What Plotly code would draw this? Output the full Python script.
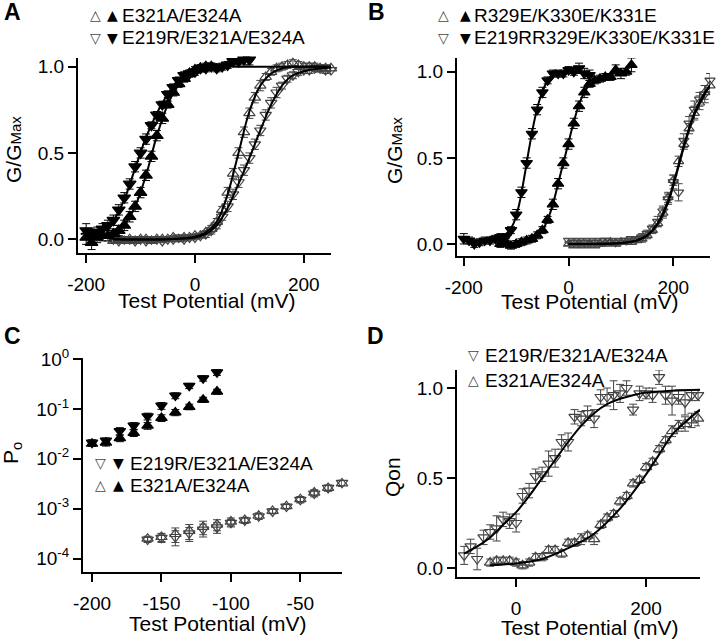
import plotly.graph_objects as go

FONT = "Liberation Sans, Arial, sans-serif"

# ---------------- Panel A data ----------------
A_V_FDN = [-200,-190,-180,-170,-160,-150,-140,-130,-120,-110,-100,-90,-80,-70,-60,-50,-40,-30,-20,-10,0,10,20,30,40,50,60,70,80,90,100]
A_G_FDN = [0.05,0.03,0.04,0.06,0.08,0.11,0.17,0.24,0.32,0.42,0.50,0.58,0.66,0.72,0.78,0.84,0.88,0.92,0.95,0.96,0.97,0.99,0.99,1.00,0.99,1.00,1.01,1.03,1.03,1.04,1.04]
A_E_FDN = [0.04,0.03,0.03,0.03,0.03,0.03,0.03,0.03,0.03,0.03,0.03,0.03,0.02,0.02,0.02,0.02,0.02,0.02,0.02,0.02,0.02,0.02,0.02,0.02,0.02,0.02,0.02,0.02,0.03,0.03,0.03]

A_V_FUP = [-200,-190,-180,-170,-160,-150,-140,-130,-120,-110,-100,-90,-80,-70,-60,-50,-40,-30,-20,-10,0,10,20,30]
A_G_FUP = [0.01,-0.02,0.01,0.02,0.02,0.03,0.05,0.08,0.13,0.19,0.27,0.37,0.48,0.60,0.70,0.78,0.85,0.90,0.93,0.96,0.98,0.99,1.00,1.00]
A_E_FUP = [0.04,0.04,0.03,0.03,0.03,0.03,0.03,0.03,0.03,0.03,0.03,0.03,0.03,0.03,0.03,0.02,0.02,0.02,0.02,0.02,0.02,0.02,0.02,0.02]

A_V_OPEN = [-150,-140,-130,-120,-110,-100,-90,-80,-70,-60,-50,-40,-30,-20,-10,0,10,20,30,40,50,60,70,80,90,100,110,120,130,140,150,160,170,180,190,200,210,220,230,240,250]
A_G_OUP = [-0.01,0.00,-0.01,0.00,-0.01,0.00,0.00,-0.01,0.00,0.00,0.00,0.01,0.00,0.01,0.01,0.02,0.02,0.04,0.06,0.10,0.17,0.27,0.38,0.50,0.62,0.73,0.82,0.89,0.94,0.97,0.99,1.00,1.01,1.02,1.01,1.00,1.00,1.00,0.99,0.99,0.99]
A_E_OUP = [0.01,0.01,0.01,0.01,0.01,0.01,0.01,0.01,0.01,0.01,0.01,0.01,0.01,0.01,0.01,0.01,0.01,0.01,0.02,0.02,0.02,0.03,0.03,0.03,0.03,0.03,0.03,0.03,0.02,0.02,0.02,0.02,0.02,0.02,0.02,0.02,0.02,0.02,0.02,0.02,0.02]
A_G_ODN = [0.00,-0.01,0.00,0.00,-0.01,0.00,-0.01,0.00,0.00,-0.01,0.00,0.00,0.01,0.00,0.01,0.01,0.02,0.03,0.05,0.08,0.13,0.19,0.26,0.33,0.40,0.47,0.55,0.63,0.72,0.79,0.85,0.89,0.93,0.95,0.97,0.98,0.98,0.99,0.99,0.98,0.98]
A_E_ODN = [0.01,0.01,0.01,0.01,0.01,0.01,0.01,0.01,0.01,0.01,0.01,0.01,0.01,0.01,0.01,0.01,0.01,0.02,0.02,0.02,0.02,0.03,0.03,0.03,0.03,0.03,0.03,0.03,0.03,0.03,0.03,0.02,0.02,0.02,0.02,0.02,0.02,0.02,0.02,0.02,0.02]

A_FIT_FDN_V = [-210,-190,-170,-150,-130,-110,-90,-70,-50,-30,-10,10,40,80,250]
A_FIT_FDN_G = [0.03,0.04,0.06,0.11,0.23,0.41,0.59,0.73,0.84,0.92,0.97,0.99,1.0,1.0,1.0]
A_FIT_FUP_V = [-200,-170,-150,-130,-110,-90,-70,-50,-30,-10,10,30,60]
A_FIT_FUP_G = [0.00,0.01,0.03,0.08,0.19,0.37,0.60,0.78,0.90,0.96,0.99,1.0,1.0]
A_FIT_OUP_V = [-150,-50,0,20,40,60,80,100,120,140,160,190,250]
A_FIT_OUP_G = [0.0,0.0,0.015,0.04,0.10,0.26,0.50,0.74,0.89,0.96,0.99,1.0,1.0]
A_FIT_ODN_V = [-150,-50,0,20,40,60,80,100,120,140,160,180,210,250]
A_FIT_ODN_G = [0.0,0.0,0.01,0.03,0.08,0.18,0.32,0.47,0.63,0.78,0.89,0.95,0.98,0.995]

# ---------------- Panel B data ----------------
B_V_FDN = [-200,-190,-180,-170,-160,-150,-140,-130,-120,-110,-100,-90,-80,-70,-60,-50,-40,-30,-20,-10,0,10,20,30,40]
B_G_FDN = [0.03,0.02,0.00,0.01,0.02,0.02,0.03,0.04,0.04,0.08,0.17,0.30,0.47,0.64,0.78,0.88,0.95,0.99,0.99,0.99,1.01,1.00,1.02,0.99,0.98]
B_E_FDN = [0.03,0.02,0.02,0.02,0.02,0.02,0.02,0.02,0.02,0.02,0.03,0.03,0.03,0.03,0.03,0.03,0.02,0.02,0.02,0.02,0.02,0.02,0.03,0.03,0.03]

B_V_FUP = [-130,-120,-110,-100,-90,-80,-70,-60,-50,-40,-30,-20,-10,0,10,20,30,40,50,60,70,80,90,100,110,120]
B_G_FUP = [0.00,0.01,-0.01,0.00,0.01,0.02,0.03,0.05,0.08,0.14,0.23,0.35,0.47,0.58,0.70,0.80,0.88,0.93,0.95,0.96,0.97,0.97,1.01,0.99,1.00,1.04]
B_E_FUP = [0.02,0.02,0.02,0.02,0.02,0.02,0.02,0.02,0.02,0.02,0.03,0.03,0.03,0.03,0.03,0.03,0.03,0.02,0.02,0.02,0.02,0.02,0.03,0.03,0.02,0.04]

B_V_OPEN = [0,10,20,30,40,50,60,70,80,90,100,110,120,130,140,150,160,170,180,190,200,210,220,230,240,250,260,270]
B_G_OUP = [0.00,-0.01,0.00,-0.01,0.00,-0.01,0.00,0.00,0.01,0.00,0.01,0.01,0.01,0.02,0.03,0.05,0.08,0.12,0.18,0.27,0.37,0.48,0.58,0.67,0.76,0.82,0.88,0.92]
B_E_OUP = [0.01,0.01,0.01,0.01,0.01,0.01,0.01,0.01,0.01,0.01,0.01,0.01,0.01,0.01,0.02,0.02,0.02,0.02,0.03,0.03,0.03,0.03,0.03,0.03,0.04,0.04,0.04,0.04]
B_G_ODN = [0.02,0.01,0.02,0.01,0.02,0.01,0.02,0.02,0.02,0.01,0.02,0.02,0.03,0.03,0.04,0.06,0.09,0.13,0.19,0.26,0.36,0.30,0.60,0.70,0.78,0.84,0.87,0.95]
B_E_ODN = [0.01,0.01,0.01,0.01,0.01,0.01,0.01,0.01,0.01,0.01,0.01,0.01,0.01,0.01,0.02,0.02,0.02,0.03,0.03,0.03,0.04,0.05,0.04,0.04,0.05,0.04,0.05,0.04]

B_FIT_FDN_V = [-200,-160,-130,-115,-105,-95,-85,-75,-65,-55,-45,-35,-25,-10,40]
B_FIT_FDN_G = [0.02,0.02,0.04,0.07,0.12,0.22,0.38,0.56,0.72,0.84,0.92,0.97,0.99,1.0,1.0]
B_FIT_FUP_V = [-130,-90,-70,-50,-40,-30,-20,-10,0,10,20,30,45,70,120]
B_FIT_FUP_G = [0.0,0.01,0.03,0.08,0.14,0.23,0.35,0.47,0.59,0.71,0.81,0.88,0.94,0.98,1.0]
B_FIT_OUP_V = [0,100,130,150,170,190,200,210,220,240,260,270]
B_FIT_OUP_G = [0.0,0.005,0.02,0.05,0.12,0.25,0.35,0.46,0.57,0.76,0.88,0.92]
B_FIT_ODN_G = [0.0,0.005,0.02,0.05,0.115,0.24,0.34,0.45,0.56,0.75,0.87,0.915]

# ---------------- Panel C data ----------------
C_V_FILLED = [-200,-190,-180,-170,-160,-150,-140,-130,-120,-110]
C_P_FDN = [0.021,0.023,0.036,0.046,0.071,0.116,0.185,0.29,0.41,0.54]
C_E_FDN = [0.003,0.003,0.006,0.007,0.011,0.018,0.025,0.035,0.05,0.07]
C_P_FUP = [0.020,0.021,0.026,0.033,0.046,0.066,0.085,0.11,0.153,0.222]
C_E_FUP = [0.002,0.003,0.004,0.005,0.007,0.01,0.012,0.014,0.018,0.025]

C_V_OPEN = [-160,-150,-140,-130,-120,-110,-100,-90,-80,-70,-60,-50,-40,-30,-20]
C_P_OUP = [2.5e-4,2.7e-4,3.1e-4,3.6e-4,4.3e-4,4.8e-4,5.5e-4,5.9e-4,7.2e-4,9.0e-4,1.12e-3,1.55e-3,2.1e-3,2.6e-3,3.2e-3]
C_E_OUP = [0.3e-4,0.5e-4,1.0e-4,1.2e-4,1.3e-4,1.2e-4,1.0e-4,0.8e-4,1.0e-4,1.0e-4,1.2e-4,2.0e-4,3.0e-4,3.5e-4,4.0e-4]
C_P_ODN = [2.4e-4,2.6e-4,2.7e-4,3.2e-4,3.8e-4,4.2e-4,5.2e-4,5.8e-4,7.0e-4,8.8e-4,1.1e-3,1.5e-3,2.0e-3,2.6e-3,3.3e-3]
C_E_ODN = [0.3e-4,0.5e-4,0.9e-4,1.0e-4,1.1e-4,1.0e-4,0.9e-4,0.7e-4,0.9e-4,0.9e-4,1.1e-4,2.0e-4,2.8e-4,3.5e-4,4.0e-4]

# ---------------- Panel D data ----------------
D_V_DN = [-80,-70,-60,-50,-40,-30,-20,-10,0,10,20,30,40,50,60,70,80,90,100,110,120,130,140,150,160,170,180,190,200,210,220,230,240,250,260,270,280,290]
D_Q_DN = [0.07,0.12,0.05,0.17,0.20,0.22,0.27,0.26,0.25,0.40,0.43,0.51,0.52,0.58,0.61,0.70,0.70,0.84,0.83,0.86,0.83,0.95,0.95,0.96,0.97,1.00,0.88,0.97,0.97,0.96,1.06,0.96,0.93,0.95,0.92,0.96,0.96,1.02]
D_E_DN = [0.05,0.04,0.06,0.04,0.04,0.07,0.04,0.04,0.05,0.04,0.04,0.04,0.04,0.07,0.05,0.04,0.05,0.04,0.04,0.04,0.05,0.04,0.05,0.08,0.05,0.04,0.03,0.04,0.03,0.04,0.04,0.05,0.08,0.04,0.07,0.03,0.03,0.04]
D_V_UP = [-40,-30,-20,-10,0,10,20,30,40,50,60,70,80,90,100,110,120,130,140,150,160,170,180,190,200,210,220,230,240,250,260,270,280]
D_Q_UP = [0.03,0.04,0.04,0.04,0.03,0.015,0.03,0.06,0.06,0.10,0.10,0.08,0.14,0.14,0.16,0.18,0.16,0.24,0.28,0.30,0.37,0.40,0.47,0.49,0.56,0.59,0.66,0.71,0.76,0.79,0.80,0.82,0.83]
D_E_UP = [0.02,0.02,0.02,0.02,0.02,0.02,0.02,0.02,0.02,0.02,0.02,0.02,0.02,0.02,0.03,0.02,0.03,0.02,0.02,0.02,0.02,0.02,0.02,0.02,0.02,0.02,0.02,0.02,0.03,0.03,0.04,0.04,0.04]

D_FIT_DN_V = [-80,-60,-40,-20,0,20,40,60,80,100,120,140,160,180,200,240,283]
D_FIT_DN_Q = [0.08,0.12,0.17,0.24,0.31,0.40,0.50,0.60,0.70,0.79,0.86,0.91,0.94,0.96,0.975,0.985,0.99]
D_FIT_UP_V = [-40,0,40,80,120,160,180,200,220,240,260,283]
D_FIT_UP_Q = [0.015,0.025,0.05,0.11,0.19,0.33,0.42,0.52,0.63,0.74,0.81,0.88]

# ---------------- labels / ticks ----------------
X_TITLE = "Test Potential (mV)"
LEG_A = ["E321A/E324A", "E219R/E321A/E324A"]
LEG_B = ["R329E/K330E/K331E", "E219RR329E/K330E/K331E"]
LEG_C = ["E219R/E321A/E324A", "E321A/E324A"]
LEG_D = ["E219R/E321A/E324A", "E321A/E324A"]
X_TICKS_AB = [-200, 0, 200]
X_TEXT_AB = ["-200", "0", "200"]
X_TICKS_C = [-200, -150, -100, -50]
X_TEXT_C = ["-200", "-150", "-100", "-50"]
X_TICKS_D = [0, 200]
X_TEXT_D = ["0", "200"]
LOG_TICKS = [1e-4, 1e-3, 1e-2, 1e-1, 1]
LOG_TEXT = ["10<sup>-4</sup>", "10<sup>-3</sup>", "10<sup>-2</sup>", "10<sup>-1</sup>", "10<sup>0</sup>"]
GTEXT = ["0.0", "0.5", "1.0"]
GVALS = [0, 0.5, 1.0]
GTITLE = "G/G<span style='font-size:15px'>Max</span>"

OPEN_C = "#444444"
W, H = 720, 640


def PX(x):
    return x / W


def PY(y):
    return 1 - y / H


fig = go.Figure()


def pts(xa, ya, x, y, e, symbol, color, size=10):
    fig.add_trace(go.Scatter(
        x=x, y=y, mode="markers", xaxis=xa, yaxis=ya, cliponaxis=False,
        marker=dict(symbol=symbol, size=size, color=color, line=dict(color=color, width=1.2)),
        error_y=dict(type="data", array=e, color=color, thickness=1, width=4),
        showlegend=False, hoverinfo="skip"))


def fit(xa, ya, x, y):
    fig.add_trace(go.Scatter(
        x=x, y=y, mode="lines", xaxis=xa, yaxis=ya,
        line=dict(color="black", width=2, shape="spline", smoothing=1.0),
        showlegend=False, hoverinfo="skip"))


# Panel A
pts("x", "y", A_V_OPEN, A_G_OUP, A_E_OUP, "triangle-up-open", OPEN_C, 10)
pts("x", "y", A_V_OPEN, A_G_ODN, A_E_ODN, "triangle-down-open", OPEN_C, 10)
pts("x", "y", A_V_FUP, A_G_FUP, A_E_FUP, "triangle-up", "black", 11)
pts("x", "y", A_V_FDN, A_G_FDN, A_E_FDN, "triangle-down", "black", 11)
fit("x", "y", A_FIT_FDN_V, A_FIT_FDN_G)
fit("x", "y", A_FIT_FUP_V, A_FIT_FUP_G)
fit("x", "y", A_FIT_OUP_V, A_FIT_OUP_G)
fit("x", "y", A_FIT_ODN_V, A_FIT_ODN_G)

# Panel B
pts("x2", "y2", B_V_OPEN, B_G_OUP, B_E_OUP, "triangle-up-open", OPEN_C, 9)
pts("x2", "y2", B_V_OPEN, B_G_ODN, B_E_ODN, "triangle-down-open", OPEN_C, 9)
pts("x2", "y2", B_V_FUP, B_G_FUP, B_E_FUP, "triangle-up", "black", 10)
pts("x2", "y2", B_V_FDN, B_G_FDN, B_E_FDN, "triangle-down", "black", 10)
fit("x2", "y2", B_FIT_FDN_V, B_FIT_FDN_G)
fit("x2", "y2", B_FIT_FUP_V, B_FIT_FUP_G)
fit("x2", "y2", B_FIT_OUP_V, B_FIT_OUP_G)
fit("x2", "y2", B_FIT_OUP_V, B_FIT_ODN_G)

# Panel C
pts("x3", "y3", C_V_OPEN, C_P_OUP, C_E_OUP, "triangle-up-open", OPEN_C, 10)
pts("x3", "y3", C_V_OPEN, C_P_ODN, C_E_ODN, "triangle-down-open", OPEN_C, 10)
pts("x3", "y3", C_V_FILLED, C_P_FUP, C_E_FUP, "triangle-up", "black", 10)
pts("x3", "y3", C_V_FILLED, C_P_FDN, C_E_FDN, "triangle-down", "black", 10)

# Panel D
pts("x4", "y4", D_V_UP, D_Q_UP, D_E_UP, "triangle-up-open", OPEN_C, 10)
pts("x4", "y4", D_V_DN, D_Q_DN, D_E_DN, "triangle-down-open", OPEN_C, 10)
fit("x4", "y4", D_FIT_DN_V, D_FIT_DN_Q)
fit("x4", "y4", D_FIT_UP_V, D_FIT_UP_Q)


def axis(domain, rng, tickvals, ticktext, anchor, typ="linear", xaxis=True):
    d = dict(domain=domain, range=rng, type=typ, anchor=anchor,
             showline=True, linecolor="black", linewidth=2, mirror=False,
             ticks="outside", ticklen=8, tickwidth=2, tickcolor="black",
             showgrid=False, zeroline=False, automargin=False,
             tickvals=tickvals, ticktext=ticktext,
             tickfont=dict(size=19, color="black", family=FONT))
    if xaxis:
        d["ticklabelstandoff"] = 5
    return d


fig.update_layout(
    width=W, height=H, margin=dict(l=0, r=0, t=0, b=0),
    paper_bgcolor="white", plot_bgcolor="white",
    font=dict(family=FONT, color="black"),
    xaxis=axis([PX(78), PX(331)], [-215, 250], X_TICKS_AB, X_TEXT_AB, "y"),
    yaxis=axis([PY(253), PY(58)], [-0.08, 1.05], GVALS, GTEXT, "x", xaxis=False),
    xaxis2=axis([PX(457), PX(710)], [-213, 270], X_TICKS_AB, X_TEXT_AB, "y2"),
    yaxis2=axis([PY(256), PY(58)], [-0.07, 1.08], GVALS, GTEXT, "x2", xaxis=False),
    xaxis3=axis([PX(83), PX(342)], [-206.5, -20], X_TICKS_C, X_TEXT_C, "y3"),
    yaxis3=axis([PY(572), PY(358)], [-4.27, 0.02], LOG_TICKS, LOG_TEXT, "x3", typ="log", xaxis=False),
    xaxis4=axis([PX(457), PX(700)], [-91, 283], X_TICKS_D, X_TEXT_D, "y4"),
    yaxis4=axis([PY(577), PY(370)], [-0.05, 1.1], GVALS, GTEXT, "x4", xaxis=False),
)

ann = []


def note(x, y, s, size, family=FONT, color="black", xanchor="center", angle=0):
    ann.append(dict(x=PX(x), y=PY(y), xref="paper", yref="paper", text=s,
                    showarrow=False, xanchor=xanchor, yanchor="middle", textangle=angle,
                    font=dict(size=size, color=color, family=family)))


def sym(x, y, s, color):
    note(x, y, s, 14, family="DejaVu Sans", color=color)


def txt(x, y, s):
    note(x, y, s, 19, xanchor="left")


# panel letters
note(13, 12, "<b>A</b>", 23)
note(376, 12, "<b>B</b>", 23)
note(13, 336, "<b>C</b>", 23)
note(375, 336, "<b>D</b>", 23)

# axis titles
note(207, 300, X_TITLE, 21)
note(589, 301, X_TITLE, 21)
note(217, 623, X_TITLE, 21)
note(589, 627, X_TITLE, 21)
note(13, 150, GTITLE, 21, angle=-90)
note(394, 151, GTITLE, 21, angle=-90)
note(12, 453, "P<sub>o</sub>", 21, angle=-90)
note(392, 477, "Qon", 21, angle=-90)

# legend A
sym(95, 15, "△", OPEN_C); sym(112, 15, "▲", "black"); txt(120, 15, LEG_A[0])
sym(95, 38, "▽", OPEN_C); sym(112, 38, "▼", "black"); txt(120, 38, LEG_A[1])
# legend B
sym(443, 15, "△", OPEN_C); sym(465, 15, "▲", "black"); txt(472, 15, LEG_B[0])
sym(443, 38, "▽", OPEN_C); sym(465, 38, "▼", "black"); txt(472, 38, LEG_B[1])
# legend C
sym(100, 463, "▽", OPEN_C); sym(118, 463, "▼", "black"); txt(128, 463, LEG_C[0])
sym(100, 485, "△", OPEN_C); sym(118, 485, "▲", "black"); txt(128, 485, LEG_C[1])
# legend D
sym(473, 355, "▽", OPEN_C); txt(483, 355, LEG_D[0])
sym(473, 380, "△", OPEN_C); txt(483, 380, LEG_D[1])

fig.update_layout(annotations=ann)
# remove the default 8 px page margin so the 720x640 figure fills the window exactly
fig.write_html("out.html", config={"displayModeBar": False},
               post_script="document.body.style.margin='0px';")
